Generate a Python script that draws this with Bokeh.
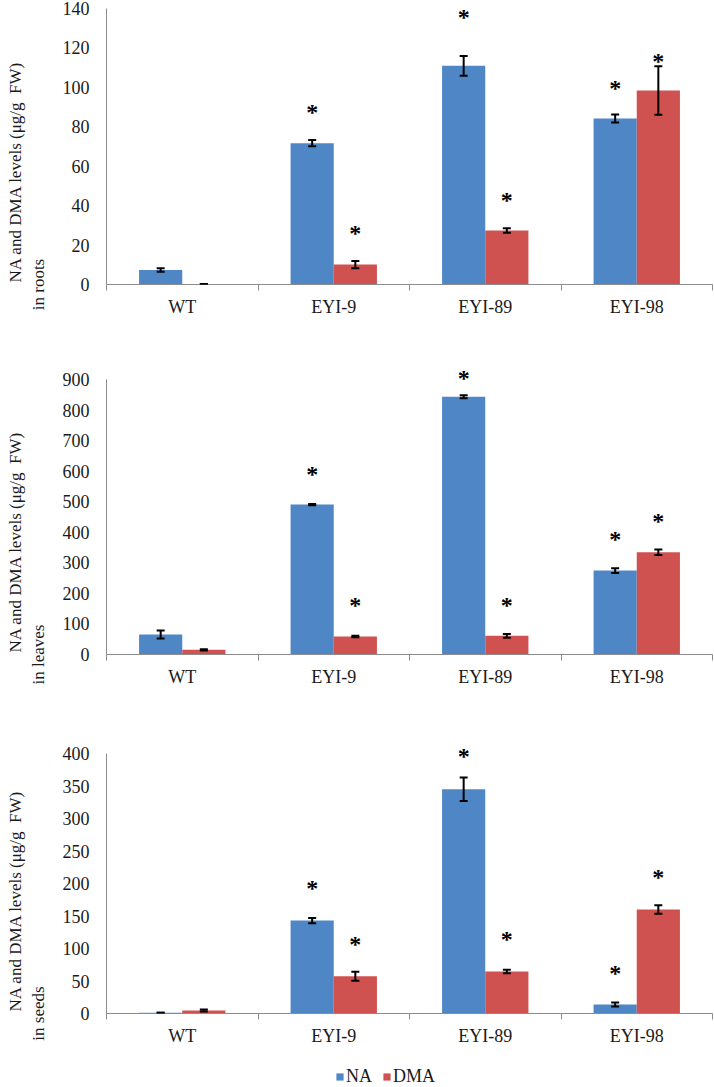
from bokeh.plotting import figure
from bokeh.models import (ColumnDataSource, FixedTicker, Whisker, TeeHead, LabelSet,
                          Legend, LegendItem, Title, Range1d)
from bokeh.layouts import column
from bokeh.core.properties import value
from bokeh.embed import file_html
from bokeh.resources import INLINE

# ---------------- data ----------------
categories = ["WT", "EYI-9", "EYI-89", "EYI-98"]
series = ["NA", "DMA"]

roots_na = [7.4, 71.7, 110.9, 84.2]
roots_na_err = [0.9, 1.6, 5.0, 2.0]
roots_dma = [0.3, 10.1, 27.4, 98.4]
roots_dma_err = [0.0, 1.8, 1.1, 12.3]
roots_na_sig = [None, 87.8, 136.0, 100.0]
roots_dma_sig = [None, 26.5, 43.5, 114.0]

leaves_na = [65.5, 490.9, 844.0, 274.9]
leaves_na_err = [13.0, 2.0, 5.0, 8.0]
leaves_dma = [15.3, 58.9, 61.1, 334.9]
leaves_dma_err = [2.0, 2.5, 6.0, 9.0]
leaves_na_sig = [None, 595.6, 907.6, 380.7]
leaves_dma_sig = [None, 166.0, 166.0, 440.0]

seeds_na = [1.0, 143.0, 345.0, 13.8]
seeds_na_err = [0.0, 4.0, 18.0, 3.0]
seeds_dma = [4.6, 57.4, 64.6, 160.0]
seeds_dma_err = [1.5, 7.0, 2.8, 6.4]
seeds_na_sig = [None, 194.0, 397.0, 63.6]
seeds_dma_sig = [None, 108.0, 115.9, 211.0]

y_label = "NA and DMA levels (\u03bcg/g\u00a0 FW)"

# ---------------- style ----------------
FONT = "Liberation Serif"
BLUE = "#4F87C6"
RED = "#D05250"
AXIS = "#8C8C8C"
TXT = "#1a1a1a"
BAR_W = 0.285


def make_panel(tissue, na, na_err, dma, dma_err, na_sig, dma_sig, ymax, ystep,
               top_b, frame_h, bottom_b, yend=None):
    n = len(categories)
    p = figure(frame_width=606, frame_height=frame_h,
               x_range=Range1d(0, n), y_range=Range1d(0, yend or ymax),
               output_backend="svg", toolbar_location=None,
               min_border_left=106, min_border_right=2,
               min_border_top=top_b, min_border_bottom=bottom_b)
    p.outline_line_color = None
    p.grid.visible = False
    p.background_fill_color = "white"

    centers = [i + 0.5 for i in range(n)]
    for vals, errs, sigs, color, off in ((na, na_err, na_sig, BLUE, -BAR_W / 2),
                                          (dma, dma_err, dma_sig, RED, BAR_W / 2)):
        xs = [c + off for c in centers]
        src = ColumnDataSource(dict(
            x=xs, top=vals,
            upper=[v + e for v, e in zip(vals, errs)],
            lower=[v - e for v, e in zip(vals, errs)]))
        p.vbar(x="x", top="top", bottom=0, width=BAR_W, source=src,
               fill_color=color, line_color=None)
        w = Whisker(source=src, base="x", upper="upper", lower="lower",
                    line_color="black", line_width=2, level="annotation",
                    upper_head=TeeHead(size=8, line_color="black", line_width=2),
                    lower_head=TeeHead(size=8, line_color="black", line_width=2))
        p.add_layout(w)
        sx = [x for x, s in zip(xs, sigs) if s is not None]
        sy = [s for s in sigs if s is not None]
        ssrc = ColumnDataSource(dict(x=sx, y=sy, t=["*"] * len(sx)))
        lab = LabelSet(source=ssrc, x="x", y="y", text="t",
                       text_align="center", text_baseline="middle",
                       text_font=value(FONT), text_font_size="24px",
                       text_font_style="bold", text_color="black", y_offset=-1)
        p.add_layout(lab)

    # x axis: labels at centres, short ticks at category boundaries
    xa = p.xaxis[0]
    xa.ticker = FixedTicker(ticks=centers, minor_ticks=list(range(n + 1)))
    xa.major_label_overrides = {c: name for c, name in zip(centers, categories)}
    xa.major_tick_line_color = None
    xa.major_tick_out = 0
    xa.major_tick_in = 0
    xa.minor_tick_line_color = AXIS
    xa.minor_tick_out = 6
    xa.minor_tick_in = 0
    xa.axis_line_color = AXIS
    xa.major_label_standoff = 6
    xa.major_label_text_font = FONT
    xa.major_label_text_font_size = "18px"
    xa.major_label_text_color = TXT

    ya = p.yaxis[0]
    ya.ticker = FixedTicker(ticks=list(range(0, ymax + 1, ystep)), minor_ticks=[])
    ya.bounds = (0, ymax)
    ya.major_tick_line_color = None
    ya.major_tick_out = 0
    ya.major_tick_in = 0
    ya.minor_tick_line_color = None
    ya.axis_line_color = AXIS
    ya.major_label_standoff = 17
    ya.major_label_text_font = FONT
    ya.major_label_text_font_size = "18px"
    ya.major_label_text_color = TXT

    # second line of the y title: axis label, aligned to the bottom
    line2 = "in " + tissue
    try:
        ya.axis_label_align = "start"
        ya.axis_label = line2
    except (AttributeError, ValueError):
        ya.axis_label = line2 + "\u00a0" * 50
    ya.axis_label_standoff = 12
    ya.axis_label_text_font = FONT
    ya.axis_label_text_font_size = "17px"
    ya.axis_label_text_font_style = "normal"
    ya.axis_label_text_color = TXT

    p.add_layout(Title(text=y_label, align="left", text_font=FONT,
                       text_font_size="17px", text_font_style="normal",
                       text_color=TXT, standoff=2, offset=2), "left")
    return p


p1 = make_panel("roots", roots_na, roots_na_err, roots_dma, roots_dma_err,
                roots_na_sig, roots_dma_sig, 140, 20, 8, 276, 80)
p2 = make_panel("leaves", leaves_na, leaves_na_err, leaves_dma, leaves_dma_err,
                leaves_na_sig, leaves_dma_sig, 900, 100, 3, 287, 89, yend=940)
p3 = make_panel("seeds", seeds_na, seeds_na_err, seeds_dma, seeds_dma_err,
                seeds_na_sig, seeds_dma_sig, 400, 50, 0, 270, 49, yend=415.4)

# legend strip below the last panel
p4 = figure(width=714, height=25, x_range=Range1d(0, 1), y_range=Range1d(0, 1),
            output_backend="svg", toolbar_location=None,
            x_axis_type=None, y_axis_type=None, min_border=0)
p4.outline_line_color = None
p4.grid.visible = False
key_renderers = [p4.vbar(x=[0.5], top=[0], bottom=[0], width=0.01,
                         fill_color=c, line_color=None)
                 for c in (BLUE, RED)]
legend = Legend(items=[LegendItem(label=s, renderers=[r])
                       for s, r in zip(series, key_renderers)],
                orientation="horizontal", location=(229, 0),
                border_line_color=None, background_fill_alpha=0,
                label_text_font=FONT, label_text_font_size="18px",
                label_text_color=TXT, label_height=18,
                glyph_width=9, glyph_height=9, label_standoff=2,
                spacing=10, margin=0, padding=2)
p4.add_layout(legend, "center")

layout = column(p1, p2, p3, p4, spacing=0)
open("out.html", "w").write(file_html(layout, INLINE))
